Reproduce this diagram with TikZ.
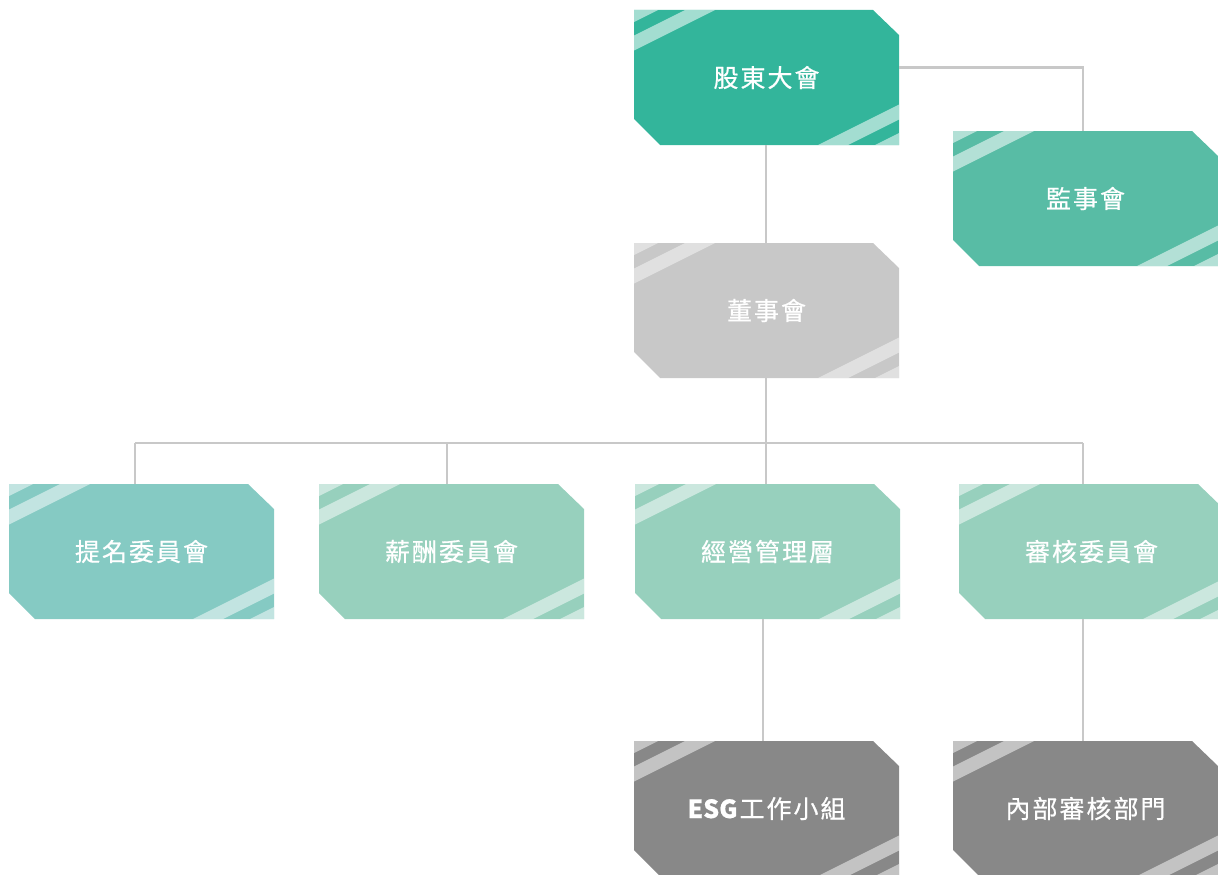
\documentclass[tikz,border=0pt]{standalone}
\usepackage{fontspec}
\newfontfamily\cjkfont{Noto Sans CJK TC}[LetterSpace=8, FakeBold=0.6]
\newfontfamily\latinbold{Noto Sans CJK TC}[FakeBold=0.6]
\usetikzlibrary{calc}
\definecolor{cGM}{HTML}{33B59B}
\definecolor{cSup}{HTML}{58BCA5}
\definecolor{cBoard}{HTML}{C8C8C8}
\definecolor{cNom}{HTML}{85CAC3}
\definecolor{cMid}{HTML}{97D0BD}
\definecolor{cDark}{HTML}{888888}
\definecolor{cLine}{HTML}{C8C8C8}
\tikzset{
  boxtext/.style={minimum width=265pt, minimum height=135pt, inner sep=0pt,
    text=white, font=\cjkfont\fontsize{25}{30}\selectfont},
  conn/.style={draw=cLine, line width=2.7pt},
}
\newcommand\orgbox[6]{% name, x, y, colour, stripe opacity, text
  \begin{scope}[shift={(#2,#3)}]
    \fill[#4] (0,0) -- (239,0) -- (265,25) -- (265,135) -- (26,135) -- (0,109) -- cycle;
    \begin{scope}
      \clip (0,0) -- (239,0) -- (265,25) -- (265,135) -- (26,135) -- (0,109) -- cycle;
      \fill[white, fill opacity=#5] (0,0) -- (24,0) -- (0,12) -- cycle;
      \fill[white, fill opacity=#5] (51,0) -- (81,0) -- (0,40.5) -- (0,25.5) -- cycle;
      \fill[white, fill opacity=#5] (265,135) -- (241,135) -- (265,123) -- cycle;
      \fill[white, fill opacity=#5] (214,135) -- (184,135) -- (265,94.5) -- (265,109.5) -- cycle;
    \end{scope}
    \node[boxtext] (#1) at (132.5,67.5) {#6};
  \end{scope}}
\begin{document}
\begin{tikzpicture}[x=1pt, y=-1pt]
\useasboundingbox (0,0) rectangle (1218,875);
\clip (0,0) rectangle (1218,875);
\coordinate (jSup) at (1083,67.5);
\coordinate (busTop) at (766,443);
\coordinate (bNom) at (135,443);
\coordinate (bRem) at (447,443);
\coordinate (bMgt) at (766,443);
\coordinate (bAud) at (1083,443);
\coordinate (xEsg) at (763,0);
\coordinate (xInt) at (1083,0);
% boxes
\orgbox{gm}{634}{10}{cGM}{0.55}{股東大會}
\orgbox{sup}{953}{131}{cSup}{0.55}{監事會}
\orgbox{board}{634}{243}{cBoard}{0.45}{董事會}
\orgbox{nom}{9}{484}{cNom}{0.5}{提名委員會}
\orgbox{rem}{319}{484}{cMid}{0.5}{薪酬委員會}
\orgbox{mgt}{635}{484}{cMid}{0.5}{經營管理層}
\orgbox{aud}{959}{484}{cMid}{0.5}{審核委員會}
\orgbox{esg}{634}{741}{cDark}{0.5}{{\latinbold\bfseries ESG}\kern2pt 工作小組}
\orgbox{int}{953}{741}{cDark}{0.5}{內部審核部門}
% connectors
\draw[conn] (gm.east |- jSup) -- (jSup) -- (jSup |- sup.north);
\draw[conn] (gm.south -| bMgt) -- (board.north -| bMgt);
\draw[conn] (board.south -| bMgt) -- (busTop);
\draw[conn] (bNom) -- (bAud);
\draw[conn] (bNom) -- (bNom |- nom.north);
\draw[conn] (bRem) -- (bRem |- rem.north);
\draw[conn] (bMgt) -- (bMgt |- mgt.north);
\draw[conn] (bAud) -- (bAud |- aud.north);
\draw[conn] (mgt.south -| xEsg) -- (esg.north -| xEsg);
\draw[conn] (aud.south -| xInt) -- (int.north -| xInt);
\end{tikzpicture}
\end{document}
